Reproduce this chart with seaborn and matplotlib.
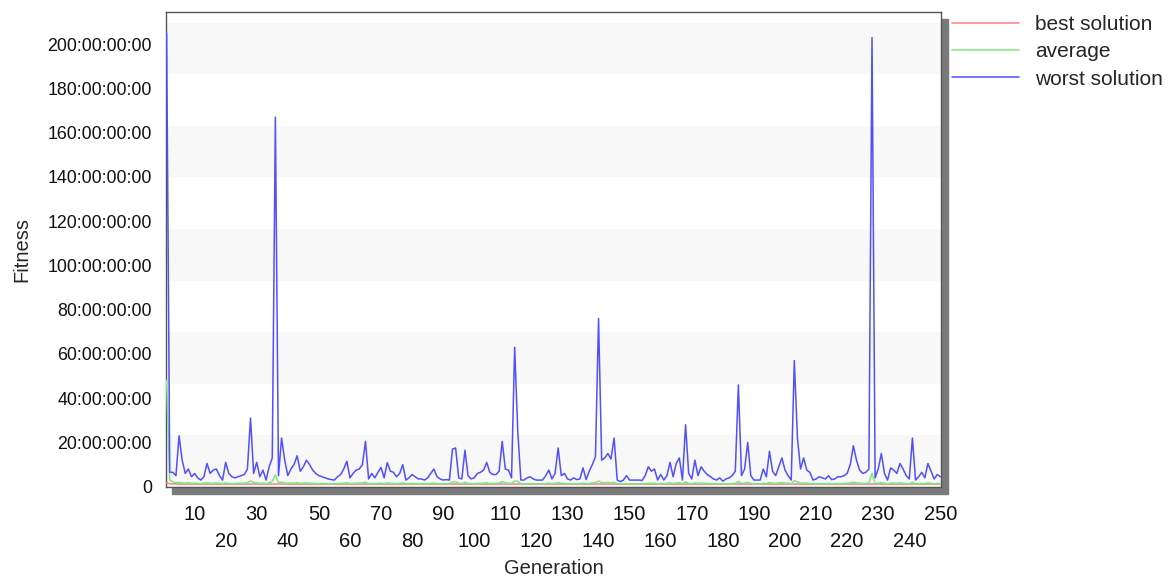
import numpy as np
import pandas as pd
import matplotlib
matplotlib.use("Agg")
import matplotlib.pyplot as plt
import seaborn as sns
from matplotlib.patches import Rectangle
from matplotlib.ticker import FuncFormatter

generations = np.arange(1, 251)

worst = [
    205, 6.5, 6.5, 5, 23, 12, 6, 8, 4.5, 6,
    4, 3, 4.5, 10.5, 6, 7.5, 8, 5, 3, 11,
    6, 4.5, 4, 4.5, 5, 5.5, 8, 31, 6, 11,
    4.5, 7.5, 3, 9, 13, 167, 5, 22, 12, 5,
    8, 10, 14, 7, 9, 12, 10, 7.5, 6, 5,
    4.5, 4, 3.5, 3.2, 3, 4.5, 5.5, 8, 11.5, 4,
    6, 7.5, 8, 10, 20.5, 3.5, 6, 4, 6.5, 8.7,
    4, 10.9, 7, 6.5, 4.5, 6, 10, 3, 4, 5.5,
    4.5, 3.5, 3.5, 3, 4, 6, 8, 4.5, 3.5, 3,
    3.2, 3, 17, 17.5, 4, 3.5, 16.5, 5, 3.5, 4,
    6, 6.5, 7.5, 11, 6.5, 5.5, 5.5, 7, 20.5, 8,
    7.5, 4, 63, 25, 3, 3, 4, 4.5, 3.5, 3,
    3, 3, 5, 7.5, 3.5, 6, 17.5, 5, 6, 3.5,
    3, 4, 3.2, 3.5, 8.5, 3.2, 7, 10, 13.5, 76,
    12, 13, 15, 12.5, 22, 3, 2.3, 3, 5, 3,
    3, 3, 3, 2.8, 5, 9, 7, 8, 3, 5.5,
    3, 5, 11, 4.5, 10.5, 13, 3, 28, 6, 3.5,
    12, 5, 9, 7, 5.5, 4.5, 3.5, 3, 4, 2.5,
    3.5, 4, 5, 7, 46, 5, 8, 20, 5, 3,
    3, 3, 8, 4.5, 16, 7, 5, 9, 13, 7.5,
    5, 3, 57, 22, 8, 13, 7.5, 6.5, 3, 3.5,
    4.5, 4, 3.5, 5, 3.2, 3.5, 4.5, 4.5, 5, 6,
    10, 18.5, 12, 7.5, 6, 6.5, 8, 203, 4, 8,
    15, 6, 3, 8.5, 7.5, 6, 10.5, 8, 5, 3.5,
    22, 3, 4.5, 6.5, 4, 10.5, 7, 3.5, 5.5, 4.5,
]

average = [
    48, 3.0, 2.2, 1.8, 1.9, 1.7, 1.6, 1.8, 1.5, 1.6,
    1.5, 1.4, 1.6, 1.8, 1.6, 1.5, 1.7, 1.5, 1.4, 1.7,
    1.5, 1.4, 1.5, 1.6, 1.5, 1.6, 1.8, 2.6, 2.0, 1.7,
    1.5, 1.6, 1.4, 1.8, 2.4, 5.3, 1.8, 2.1, 1.7, 1.5,
    1.7, 1.6, 1.8, 1.5, 1.6, 1.7, 1.6, 1.5, 1.5, 1.4,
    1.5, 1.4, 1.4, 1.3, 1.4, 1.5, 1.5, 1.6, 1.8, 1.4,
    1.5, 1.6, 1.6, 1.7, 2.0, 1.4, 1.5, 1.4, 1.5, 1.6,
    1.4, 1.7, 1.5, 1.5, 1.4, 1.5, 1.7, 1.3, 1.4, 1.5,
    1.4, 1.3, 1.4, 1.3, 1.4, 1.5, 1.6, 1.4, 1.4, 1.3,
    1.4, 1.4, 2.2, 2.3, 1.5, 1.4, 2.0, 1.5, 1.4, 1.4,
    1.5, 1.5, 1.6, 1.8, 1.5, 1.5, 1.5, 1.6, 2.4, 1.7,
    1.6, 1.5, 2.6, 2.4, 1.4, 1.3, 1.4, 1.4, 1.4, 1.3,
    1.3, 1.3, 1.4, 1.6, 1.4, 1.5, 1.9, 1.5, 1.5, 1.4,
    1.3, 1.4, 1.3, 1.4, 1.6, 1.4, 1.5, 1.7, 1.9, 2.6,
    1.8, 1.8, 1.9, 1.8, 2.0, 1.4, 1.3, 1.3, 1.4, 1.3,
    1.3, 1.3, 1.3, 1.3, 1.4, 1.6, 1.5, 1.6, 1.3, 1.5,
    1.3, 1.5, 1.7, 1.4, 1.7, 1.8, 1.4, 2.2, 1.5, 1.4,
    1.7, 1.5, 1.6, 1.5, 1.5, 1.4, 1.4, 1.3, 1.4, 1.3,
    1.3, 1.4, 1.4, 1.5, 2.4, 1.5, 1.6, 2.0, 1.5, 1.3,
    1.3, 1.3, 1.6, 1.4, 1.9, 1.6, 1.5, 1.7, 1.8, 1.6,
    1.5, 1.4, 2.7, 2.2, 1.6, 1.7, 1.6, 1.5, 1.3, 1.4,
    1.4, 1.4, 1.3, 1.5, 1.3, 1.4, 1.4, 1.4, 1.5, 1.5,
    1.7, 2.0, 1.8, 1.6, 1.5, 1.5, 1.7, 6.0, 1.4, 1.6,
    1.9, 1.5, 1.3, 1.6, 1.6, 1.5, 1.7, 1.6, 1.4, 1.3,
    2.0, 1.3, 1.4, 1.5, 1.4, 1.7, 1.5, 1.3, 1.5, 1.4,
]

best = [
    1.6, 1.4, 1.3, 1.3, 1.2, 1.2, 1.2, 1.2, 1.2, 1.2,
    1.2, 1.2, 1.2, 1.2, 1.2, 1.2, 1.2, 1.2, 1.2, 1.2,
    1.2, 1.2, 1.2, 1.2, 1.2, 1.2, 1.2, 1.2, 1.2, 1.2,
    1.2, 1.2, 1.2, 1.2, 1.2, 1.2, 1.2, 1.2, 1.2, 1.2,
    1.2, 1.2, 1.2, 1.2, 1.2, 1.2, 1.2, 1.2, 1.2, 1.2,
    1.2, 1.2, 1.2, 1.2, 1.2, 1.2, 1.2, 1.2, 1.2, 1.2,
    1.2, 1.2, 1.2, 1.2, 1.2, 1.2, 1.2, 1.2, 1.2, 1.2,
    1.2, 1.2, 1.2, 1.2, 1.2, 1.2, 1.2, 1.2, 1.2, 1.2,
    1.2, 1.2, 1.2, 1.2, 1.2, 1.2, 1.2, 1.2, 1.2, 1.2,
    1.2, 1.2, 1.2, 1.2, 1.2, 1.2, 1.2, 1.2, 1.2, 1.2,
    1.2, 1.2, 1.2, 1.2, 1.2, 1.2, 1.2, 1.2, 1.2, 1.2,
    1.2, 1.2, 1.2, 1.2, 1.2, 1.2, 1.2, 1.2, 1.2, 1.2,
    1.2, 1.2, 1.2, 1.2, 1.2, 1.2, 1.2, 1.2, 1.2, 1.2,
    1.2, 1.2, 1.2, 1.2, 1.2, 1.2, 1.2, 1.2, 1.2, 1.2,
    1.2, 1.2, 1.2, 1.2, 1.2, 1.2, 1.2, 1.2, 1.2, 1.2,
    1.2, 1.2, 1.2, 1.2, 1.2, 1.2, 1.2, 1.2, 1.2, 1.2,
    1.2, 1.2, 1.2, 1.2, 1.2, 1.2, 1.2, 1.2, 1.2, 1.2,
    1.2, 1.2, 1.2, 1.2, 1.2, 1.2, 1.2, 1.2, 1.2, 1.2,
    1.2, 1.2, 1.2, 1.2, 1.2, 1.2, 1.2, 1.2, 1.2, 1.2,
    1.2, 1.2, 1.2, 1.2, 1.2, 1.2, 1.2, 1.2, 1.2, 1.2,
    1.2, 1.2, 1.2, 1.2, 1.2, 1.2, 1.2, 1.2, 1.2, 1.2,
    1.2, 1.2, 1.2, 1.2, 1.2, 1.2, 1.2, 1.2, 1.2, 1.2,
    1.2, 1.2, 1.2, 1.2, 1.2, 1.2, 1.2, 1.2, 1.2, 1.2,
    1.2, 1.2, 1.2, 1.2, 1.2, 1.2, 1.2, 1.2, 1.2, 1.2,
    1.2, 1.2, 1.2, 1.2, 1.2, 1.2, 1.2, 1.2, 1.2, 1.2,
]

series_names = ["best solution", "average", "worst solution"]
series_colors = ["#ff8080", "#80e880", "#5050ff"]
x_ticks = list(range(10, 251, 10))
y_ticks = list(range(0, 201, 20))

df = pd.DataFrame({
    "Generation": np.concatenate([generations] * 3),
    "Fitness": best + average + worst,
    "series": np.repeat(series_names, len(generations)),
})

sns.set_style("white")
plt.rcParams["font.family"] = ["Liberation Sans", "DejaVu Sans"]

fig = plt.figure(figsize=(11.68, 5.76), dpi=100)
ax = fig.add_axes([166 / 1168, 1 - 486.7 / 576, (941 - 166) / 1168, 475 / 576])

# drop shadow behind the plot frame
fig.patches.append(Rectangle((172 / 1168, 1 - 493.5 / 576), 776 / 1168, 475 / 576,
                             transform=fig.transFigure, color="#7a7a7a", zorder=-1))

ymax = 214.7
band = 23.3
y0 = 0
while y0 < ymax:
    ax.axhspan(y0, min(y0 + band, ymax), color="#f8f8f8", zorder=0, lw=0)
    y0 += 2 * band

sns.lineplot(data=df, x="Generation", y="Fitness", hue="series", hue_order=series_names,
             palette=dict(zip(series_names, series_colors)), linewidth=1.1, ax=ax)

ax.set_xlim(0.8, 250.2)
ax.set_ylim(0, ymax)
ax.set_xticks(x_ticks)
ax.set_xticklabels([str(t) for t in x_ticks])
ax.set_yticks(y_ticks)
ax.yaxis.set_major_formatter(FuncFormatter(lambda v, _: "0" if v == 0 else f"{int(v)}:00:00:00"))

ax.tick_params(axis="x", direction="inout", length=21, width=1, color="#333333",
               labelsize=14.5, pad=3, labelcolor="#111111")
ax.tick_params(axis="y", direction="inout", length=16, width=1, color="#999999",
               labelsize=12.8, pad=2, labelcolor="#111111")
for i, tick in enumerate(ax.xaxis.get_major_ticks()):
    if i % 2 == 1:
        tick.set_pad(22)

for s in ax.spines.values():
    s.set_color("#555555")
    s.set_linewidth(1)
    s.set_zorder(1)

ax.set_xlabel("Generation", fontsize=14.5, labelpad=6)
ax.set_ylabel("Fitness", fontsize=14.5, labelpad=12)

handles, labels = ax.get_legend_handles_labels()
ax.legend(handles, labels, loc="upper left", bbox_to_anchor=(952 / 1168, 1 - 15 / 576),
          bbox_transform=fig.transFigure, frameon=False, fontsize=15,
          handlelength=3.2, handletextpad=0.8, labelspacing=0.4, borderpad=0, borderaxespad=0)

fig.savefig("out.png", dpi=100)
